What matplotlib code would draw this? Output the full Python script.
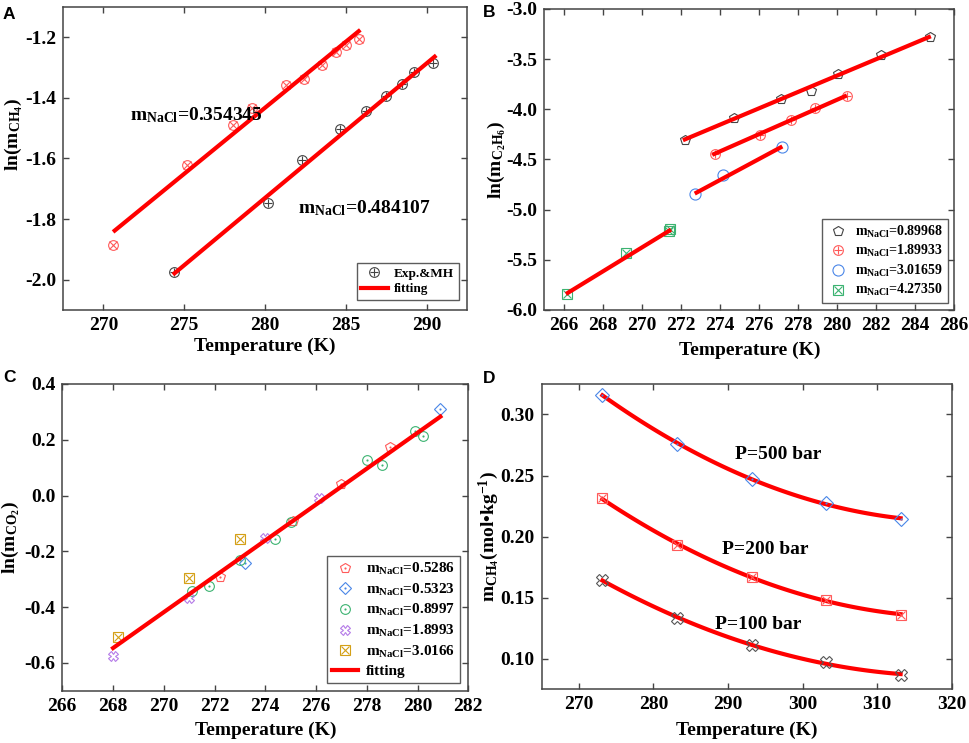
import numpy as np
import matplotlib
matplotlib.use("Agg")
import matplotlib.pyplot as plt

plt.rcParams['font.family'] = ['Liberation Serif', 'DejaVu Serif']
plt.rcParams['font.weight'] = 'bold'
plt.rcParams['mathtext.fontset'] = 'custom'
plt.rcParams['mathtext.rm'] = 'Liberation Serif:bold'
plt.rcParams['mathtext.it'] = 'Liberation Serif:bold'
plt.rcParams['mathtext.bf'] = 'Liberation Serif:bold'

# ---------------- A: ln(m_CH4) ----------------
a_t1 = [270.6, 275.2, 278.0, 279.2, 281.3, 282.4, 283.5, 284.4, 285.0, 285.8]
a_y1 = [-1.887, -1.623, -1.491, -1.433, -1.359, -1.337, -1.290, -1.250, -1.227, -1.205]
a_fit1_t = [270.7, 285.8]
a_fit1_y = [-1.838, -1.180]
a_t2 = [274.35, 280.2, 282.3, 284.66, 286.26, 287.5, 288.45, 289.22, 290.42]
a_y2 = [-1.975, -1.746, -1.605, -1.502, -1.444, -1.395, -1.354, -1.313, -1.284]
a_fit2_t = [274.4, 290.5]
a_fit2_y = [-1.979, -1.264]

# ---------------- B: ln(m_C2H6) ----------------
b_labels = ['0.89968', '1.89933', '3.01659', '4.27350']
b_t = [[272.23, 274.74, 277.14, 278.65, 280.05, 282.24, 284.78],
       [273.73, 276.04, 277.65, 278.85, 280.48],
       [272.72, 274.14, 277.16],
       [266.18, 269.2, 271.37, 271.46]]
b_y = [[-4.306, -4.090, -3.894, -3.814, -3.651, -3.458, -3.276],
       [-4.445, -4.256, -4.106, -3.990, -3.867],
       [-4.844, -4.651, -4.372],
       [-5.840, -5.435, -5.209, -5.196]]
b_fit_t = [[272.2, 284.7], [273.7, 280.4], [272.8, 277.1], [266.2, 271.4]]
b_fit_y = [[-4.30, -3.28], [-4.445, -3.87], [-4.83, -4.38], [-5.83, -5.21]]

# ---------------- C: ln(m_CO2) ----------------
c_labels = ['0.5286', '0.5323', '0.8997', '1.8993', '3.0166']
c_t = [[272.2, 275.1, 277.0, 278.9],
       [273.2, 280.9],
       [271.1, 271.8, 273.0, 274.4, 275.0, 278.0, 278.6, 279.9, 280.2],
       [268.0, 271.0, 274.0, 276.1],
       [268.2, 271.0, 273.0]]
c_y = [[-0.293, -0.093, 0.042, 0.175],
       [-0.243, 0.310],
       [-0.344, -0.323, -0.233, -0.157, -0.096, 0.128, 0.110, 0.232, 0.215],
       [-0.577, -0.368, -0.153, -0.010],
       [-0.506, -0.297, -0.157]]
c_fit_t = [268.0, 280.9]
c_fit_y = [-0.547, 0.283]

# ---------------- D: m_CH4 vs T ----------------
d_t = [273.15, 283.15, 293.15, 303.15, 313.15]
d_p500 = [0.3163, 0.2755, 0.2471, 0.2277, 0.2144]
d_p200 = [0.2313, 0.1932, 0.1668, 0.1482, 0.1360]
d_p100 = [0.1646, 0.1330, 0.1114, 0.0970, 0.0869]

RED = '#ff0000'
FS = 14

fig = plt.figure(figsize=(9.69, 7.43), dpi=100)
axA = fig.add_axes([0.0650, 0.5828, 0.4169, 0.4078])
axB = fig.add_axes([0.5617, 0.5828, 0.4231, 0.4051])
axC = fig.add_axes([0.0643, 0.0704, 0.4190, 0.4128])
axD = fig.add_axes([0.5590, 0.0723, 0.4231, 0.4110])


def style(ax):
    for s in ax.spines.values():
        s.set_color('#444444')
        s.set_linewidth(1.1)
    ax.tick_params(direction='in', top=True, right=True, length=4,
                   width=1, color='#444444', labelsize=FS, pad=5)
    for lab in ax.get_xticklabels() + ax.get_yticklabels():
        lab.set_fontweight('bold')


def mk(ax, t, y, shape, color, inner=None, size=7, label=None, isz=None):
    ax.plot(t, y, linestyle='none', marker=shape, ms=size, mfc='none',
            mec=color, mew=0.8, label=label)
    if inner is not None:
        ax.plot(t, y, linestyle='none', marker=inner, ms=isz or size * 0.75,
                mec=color, mfc=color, mew=0.8)


def legmarker(shape, color, inner=None, size=7, isz=None):
    h1 = plt.Line2D([], [], linestyle='none', marker=shape, ms=size,
                    mfc='none', mec=color, mew=0.8)
    if inner is None:
        return h1
    h2 = plt.Line2D([], [], linestyle='none', marker=inner, ms=isz or size * 0.75,
                    mfc=color, mec=color, mew=0.8)
    return (h1, h2)


def legend(ax, handles, labels, anchor, fs=10, hl=1.5, sp=0.25):
    lg = ax.legend(handles, labels, loc='lower right', bbox_to_anchor=anchor,
                   fontsize=fs, frameon=True, fancybox=False, borderaxespad=0,
                   handlelength=hl, handletextpad=0.5, labelspacing=sp,
                   borderpad=0.35)
    lg.get_frame().set_edgecolor('#333333')
    lg.get_frame().set_linewidth(1.0)
    for t in lg.get_texts():
        t.set_fontweight('bold')


# ---- A ----
mk(axA, a_t1, a_y1, 'o', '#ff5a5a', inner='x')
mk(axA, a_t2, a_y2, 'o', '#444444', inner='+')
axA.plot(a_fit1_t, a_fit1_y, color=RED, lw=3)
axA.plot(a_fit2_t, a_fit2_y, color=RED, lw=3)
axA.text(271.66, -1.458, r'm$_{\rm NaCl}$=0.354345', fontsize=FS, va='center')
axA.text(282.03, -1.765, r'm$_{\rm NaCl}$=0.484107', fontsize=FS, va='center')
axA.set_xlim(267.5, 292.5)
axA.set_ylim(-2.1, -1.1)
axA.set_xticks([270, 275, 280, 285, 290])
axA.set_yticks([-2.0, -1.8, -1.6, -1.4, -1.2])
axA.set_yticklabels(['-2.0', '-1.8', '-1.6', '-1.4', '-1.2'])
axA.set_xlabel('Temperature (K)', fontsize=FS, fontweight='bold')
axA.set_ylabel(r'ln(m$_{\rm CH_4}$)', fontsize=FS, fontweight='bold')
axA.xaxis.set_label_coords(0.5, -0.092)
axA.yaxis.set_label_coords(-0.093, 0.58)
style(axA)
legend(axA, [legmarker('o', '#444444', '+'), plt.Line2D([], [], color=RED, lw=3)],
       ['Exp.&MH', 'fitting'], (0.98, 0.033), fs=9.5, hl=2.0)

# ---- B ----
b_style = [('p', '#444444', None), ('o', '#ff5a5a', '+'),
           ('o', '#4a86e8', None), ('s', '#3cb371', 'x')]
for i in range(4):
    shape, col, inner = b_style[i]
    sz = 8 if shape == 'o' and inner is None else 7
    mk(axB, b_t[i], b_y[i], shape, col, inner=inner, size=sz)
    axB.plot(b_fit_t[i], b_fit_y[i], color=RED, lw=3)
axB.set_xlim(265, 286)
axB.set_ylim(-6.0, -3.0)
axB.set_xticks(np.arange(266, 287, 2))
axB.set_yticks([-6.0, -5.5, -5.0, -4.5, -4.0, -3.5, -3.0])
axB.set_yticklabels(['-6.0', '-5.5', '-5.0', '-4.5', '-4.0', '-3.5', '-3.0'])
axB.set_xlabel('Temperature (K)', fontsize=FS, fontweight='bold')
axB.set_ylabel(r'ln(m$_{\rm C_2H_6}$)', fontsize=FS, fontweight='bold')
axB.xaxis.set_label_coords(0.5, -0.105)
axB.yaxis.set_label_coords(-0.089, 0.5)
style(axB)
legend(axB, [legmarker(s, c, inn, size=(8 if s == 'o' and inn is None else 7)) for s, c, inn in b_style],
       [r'm$_{\rm NaCl}$=' + l for l in b_labels], (0.985, 0.022), fs=10)

# ---- C ----
c_style = [('p', '#ff5a5a', '.'), ('D', '#4a86e8', '.'), ('o', '#3cb371', '.'),
           ('X', '#b57be8', None), ('s', '#d4a017', 'x')]
for i in range(5):
    shape, col, inner = c_style[i]
    sz = 6 if shape == 'D' else 7
    mk(axC, c_t[i], c_y[i], shape, col, inner=inner, size=sz,
       isz=(1.5 if inner == '.' else None))
axC.plot(c_fit_t, c_fit_y, color=RED, lw=3)
axC.set_xlim(266, 282)
axC.set_ylim(-0.7, 0.4)
axC.set_xticks(np.arange(266, 283, 2))
axC.set_yticks([-0.6, -0.4, -0.2, 0.0, 0.2, 0.4])
axC.set_yticklabels(['-0.6', '-0.4', '-0.2', '0.0', '0.2', '0.4'])
axC.set_xlabel('Temperature (K)', fontsize=FS, fontweight='bold')
axC.set_ylabel(r'ln(m$_{\rm CO_2}$)', fontsize=FS, fontweight='bold')
axC.xaxis.set_label_coords(0.5, -0.101)
axC.yaxis.set_label_coords(-0.100, 0.5)
style(axC)
hC = [legmarker(s, c, inn, size=(6 if s == 'D' else 7), isz=(1.5 if inn == '.' else None))
      for s, c, inn in c_style]
hC.append(plt.Line2D([], [], color=RED, lw=3))
legend(axC, hC, [r'm$_{\rm NaCl}$=' + l for l in c_labels] + ['fitting'],
       (0.98, 0.024), fs=11, hl=1.7, sp=0.3)

# ---- D ----
tt = np.linspace(d_t[0], d_t[-1], 100)
for vals in (d_p500, d_p200, d_p100):
    coef = np.polyfit(d_t, vals, 2)
    axD.plot(tt, np.polyval(coef, tt), color=RED, lw=3, zorder=1)
mk(axD, d_t, d_p500, 'D', '#4a86e8', inner='.', size=7, isz=1.5)
mk(axD, d_t, d_p200, 's', '#ff5a5a', inner='x', size=7)
mk(axD, d_t, d_p100, 'X', '#555555', size=9)
axD.text(291.0, 0.2668, 'P=500 bar', fontsize=FS, va='center')
axD.text(289.2, 0.1891, 'P=200 bar', fontsize=FS, va='center')
axD.text(288.2, 0.1278, 'P=100 bar', fontsize=FS, va='center')
axD.set_xlim(265, 320)
axD.set_ylim(0.075, 0.325)
axD.set_xticks([270, 280, 290, 300, 310, 320])
axD.set_yticks([0.10, 0.15, 0.20, 0.25, 0.30])
axD.set_yticklabels(['0.10', '0.15', '0.20', '0.25', '0.30'])
axD.set_xlabel('Temperature (K)', fontsize=FS, fontweight='bold')
axD.set_ylabel(r'm$_{\rm CH_4}$(mol•kg$^{-1}$)', fontsize=FS, fontweight='bold')
axD.xaxis.set_label_coords(0.5, -0.106)
axD.yaxis.set_label_coords(-0.097, 0.5)
style(axD)

# panel letters
for x, y, s in [(0.003, 0.991, 'A'), (0.498, 0.993, 'B'), (0.003, 0.502, 'C'), (0.498, 0.501, 'D')]:
    fig.text(x, y, s, fontsize=12.5, fontweight='bold', family='Liberation Sans',
             ha='left', va='top')

fig.savefig('out.png', dpi=100)
